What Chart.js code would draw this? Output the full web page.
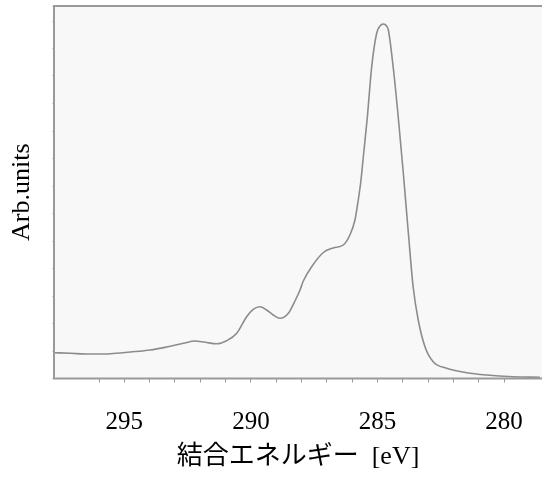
<!DOCTYPE html>
<html lang="ja">
<head>
    <meta charset="UTF-8">
    <title>XPS C1s</title>
    <script src="https://cdn.jsdelivr.net/npm/chart.js"></script>
    <style>
        html, body {
            margin: 0;
            padding: 0;
            background: #ffffff;
        }
        #wrap {
            width: 542px;
            height: 477px;
        }
    </style>
</head>
<body>
<div id="wrap">
    <canvas id="xpsChart"></canvas>
</div>
<script>
    // binding energy (eV)
    const energy = [
        297.78, 297.14, 296.35, 295.56, 294.77, 293.98, 293.33, 292.67, 292.21, 291.81,
        291.35, 290.96, 290.56, 290.17, 289.91, 289.64, 289.38, 289.12, 288.85, 288.52,
        288.26, 288.06, 287.93, 287.60, 287.14, 286.75, 286.35, 286.09, 285.89, 285.76,
        285.66, 285.56, 285.40, 285.23, 285.03, 284.90, 284.77, 284.64, 284.57, 284.38,
        284.18, 283.98, 283.78, 283.59, 283.39, 283.12, 282.80, 282.27, 281.48, 280.69,
        279.64, 278.58
    ];
    // intensity (arbitrary units)
    const intensity = [
        25.8, 25.2, 24.5, 24.8, 26.5, 28.5, 31.5, 35.2, 37.5, 36.2,
        34.8, 37.8, 45.2, 61.8, 69.2, 71.8, 68.5, 63.5, 60.2, 65.2,
        77.5, 88.5, 97.5, 111.8, 126, 130.5, 133.5, 143.5, 158.5, 178.5,
        196.5, 221.5, 261.5, 311.5, 345.5, 352.5, 354.5, 352.5, 348.5, 311.5,
        261.5, 205.5, 145.5, 91.5, 58.5, 31.5, 16.8, 10.2, 5.8, 3.5,
        1.8, 1.2
    ];
    const xMin = 278.5;
    const xMax = 297.78;
    const xLabels = [295, 290, 285, 280];

    const serif = "'Liberation Serif', 'Times New Roman', 'Noto Sans CJK JP', serif";

    // grey plot background plus the left/top/bottom frame
    const framePlugin = {
        id: 'frame',
        beforeDraw(chart) {
            const {ctx, chartArea: a} = chart;
            ctx.save();
            ctx.fillStyle = '#f8f8f8';
            ctx.fillRect(a.left, a.top, a.right - a.left, a.bottom - a.top);
            ctx.restore();
        },
        afterDraw(chart) {
            const {ctx, chartArea: a} = chart;
            ctx.save();
            ctx.strokeStyle = '#9a9a9a';
            ctx.lineWidth = 2;
            ctx.beginPath();
            ctx.moveTo(a.right, a.top);
            ctx.lineTo(a.left, a.top);
            ctx.lineTo(a.left, a.bottom);
            ctx.lineTo(a.right, a.bottom);
            ctx.stroke();
            ctx.restore();
        }
    };

    const points = energy.map((e, i) => ({x: e, y: intensity[i]}));

    new Chart(document.getElementById('xpsChart'), {
        type: 'line',
        data: {
            datasets: [{
                data: points,
                borderColor: '#8c8c8c',
                borderWidth: 1.6,
                pointRadius: 0,
                cubicInterpolationMode: 'monotone',
                fill: false
            }]
        },
        options: {
            responsive: true,
            maintainAspectRatio: false,
            animation: false,
            layout: { padding: { top: 6, left: 0, right: 0, bottom: 0 } },
            plugins: {
                legend: { display: false },
                tooltip: { enabled: false }
            },
            scales: {
                x: {
                    type: 'linear',
                    reverse: true,
                    min: xMin,
                    max: xMax,
                    afterFit(scale) {
                        scale.height = 98.5;
                        // plot runs right up to the canvas edge
                        scale.paddingLeft = 0;
                        scale.paddingRight = 0;
                    },
                    afterBuildTicks(scale) {
                        scale.ticks = scale.ticks.filter(t => Math.abs(t.value - Math.round(t.value)) < 1e-6);
                    },
                    ticks: {
                        stepSize: 1,
                        autoSkip: false,
                        maxRotation: 0,
                        padding: 25,
                        color: '#000000',
                        font: { family: serif, size: 25 },
                        callback: v => xLabels.includes(Math.round(v)) ? String(Math.round(v)) : ''
                    },
                    grid: {
                        drawOnChartArea: false,
                        drawTicks: true,
                        tickLength: 4,
                        color: '#9a9a9a'
                    },
                    border: { display: false },
                    title: {
                        display: true,
                        text: '結合エネルギー  [eV]',
                        color: '#000000',
                        font: { family: serif, size: 26 },
                        padding: { top: 0, bottom: 4 }
                    }
                },
                y: {
                    min: 0,
                    max: 372.5,
                    afterFit(scale) { scale.width = 54; },
                    ticks: {
                        display: false,
                        stepSize: 27.5
                    },
                    grid: {
                        drawOnChartArea: false,
                        drawTicks: true,
                        tickLength: 2,
                        color: '#d0d0d0'
                    },
                    border: { display: false },
                    title: {
                        display: true,
                        text: 'Arb.units',
                        color: '#000000',
                        font: { family: serif, size: 26 },
                        padding: { top: 7, bottom: 0 }
                    }
                }
            }
        },
        plugins: [framePlugin]
    });
</script>
</body>
</html>
